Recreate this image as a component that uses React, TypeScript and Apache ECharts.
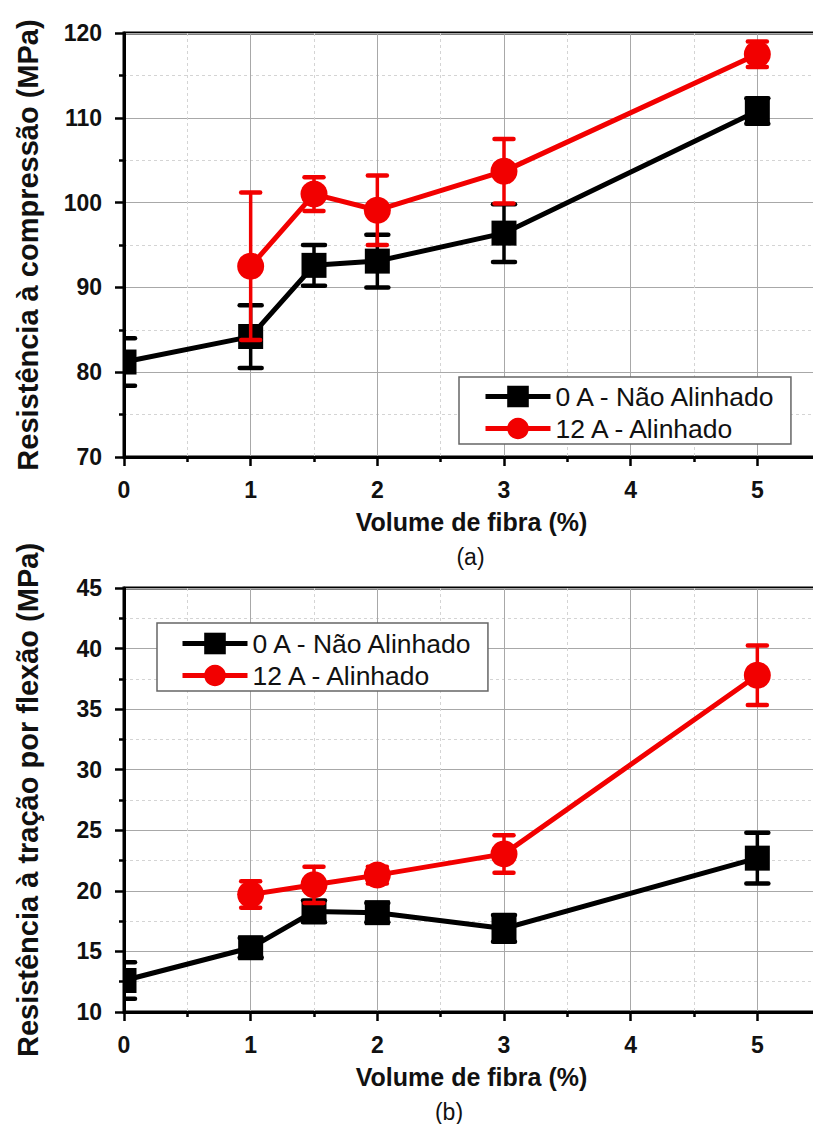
import React, { useEffect, useRef } from "react";
import * as echarts from "echarts";

// ---- data ----
const fibraNaoAlinhado = [0, 1, 1.5, 2, 3, 5];
const fibraAlinhado = [1, 1.5, 2, 3, 5];

const compNaoAlinhado = [81.2, 84.2, 92.6, 93.1, 96.4, 110.8];
const compNaoAlinhadoErr = [2.8, 3.7, 2.4, 3.1, 3.4, 1.5];
const compAlinhado = [92.5, 101.0, 99.1, 103.7, 117.5];
const compAlinhadoErr = [8.7, 2.0, 4.1, 3.8, 1.5];

const flexNaoAlinhado = [12.6, 15.3, 18.3, 18.2, 16.9, 22.7];
const flexNaoAlinhadoErr = [1.5, 0.8, 0.9, 0.8, 1.1, 2.1];
const flexAlinhado = [19.7, 20.5, 21.3, 23.05, 37.8];
const flexAlinhadoErr = [1.1, 1.5, 0.7, 1.55, 2.45];

const nameNao = "0 A - Não Alinhado";
const nameAli = "12 A - Alinhado";
const xTitle = "Volume de fibra (%)";
const yTitleA = "Resistência à compressão (MPa)";
const yTitleB = "Resistência à tração por flexão (MPa)";

const FONT = "'Liberation Sans', Arial, Helvetica, sans-serif";
const BLACK = "#000000";
const RED = "#f20000";

function pts(xs: number[], ys: number[]) {
  return xs.map((x, i) => [x, ys[i]]);
}
function errPts(xs: number[], ys: number[], es: number[]) {
  return xs.map((x, i) => [x, ys[i], es[i]]);
}

export default function App() {
  const ref = useRef<HTMLDivElement>(null);
  useEffect(() => {
    if (!ref.current) return;
    const chart = echarts.init(ref.current, undefined, { renderer: "svg" });

    const xAxisBase = (gridIndex: number) => ({
      type: "value",
      gridIndex,
      min: 0,
      max: 6,
      interval: 1,
      name: xTitle,
      nameLocation: "middle",
      nameGap: 52,
      nameTextStyle: { fontSize: 25, fontWeight: "bold", color: "#111", fontFamily: FONT, padding: [0, 65, 0, 0] },
      axisLine: { show: true, onZero: false, lineStyle: { color: BLACK, width: 3 } },
      axisTick: { show: true, length: 9, lineStyle: { color: BLACK, width: 2.5 } },
      minorTick: { show: true, splitNumber: 2, length: 5, lineStyle: { color: BLACK, width: 2.5 } },
      axisLabel: {
        fontSize: 23,
        fontWeight: "bold",
        color: "#111",
        fontFamily: FONT,
        margin: 21,
        formatter: (v: number) => (v > 5 ? "" : String(v)),
      },
      splitLine: { show: true, lineStyle: { color: "#a8a8a8", width: 1 } },
      minorSplitLine: { show: true, lineStyle: { color: "#d4d4d4", width: 1, type: [3, 3] } },
    });

    const yAxisBase = (gridIndex: number, min: number, max: number, interval: number, name: string) => ({
      type: "value",
      gridIndex,
      min,
      max,
      interval,
      name,
      nameLocation: "middle",
      nameGap: 82,
      nameTextStyle: { fontSize: 29, fontWeight: "bold", color: "#111", fontFamily: FONT },
      axisLine: { show: true, onZero: false, lineStyle: { color: BLACK, width: 3 } },
      axisTick: { show: true, length: 9, lineStyle: { color: BLACK, width: 2.5 } },
      minorTick: { show: true, splitNumber: 2, length: 5, lineStyle: { color: BLACK, width: 2.5 } },
      axisLabel: { fontSize: 23, fontWeight: "bold", color: "#111", fontFamily: FONT, margin: 22 },
      splitLine: { show: true, lineStyle: { color: "#a8a8a8", width: 1 } },
      minorSplitLine: { show: true, lineStyle: { color: "#d4d4d4", width: 1, type: [3, 3] } },
    });

    const lineSeries = (name: string, color: string, symbol: string, size: number, data: number[][], idx: number, z: number) => ({
      type: "line",
      name,
      xAxisIndex: idx,
      yAxisIndex: idx,
      data,
      color,
      symbol,
      symbolSize: size,
      showSymbol: false,
      lineStyle: { color, width: 5 },
      itemStyle: { color },
      z,
      silent: true,
    });

    const markerSeries = (color: string, shape: string, data: number[][], idx: number, z: number) => ({
      type: "custom",
      name: "err-" + color + "-" + idx,
      xAxisIndex: idx,
      yAxisIndex: idx,
      clip: true,
      z,
      silent: true,
      data,
      encode: { x: 0, y: 1 },
      renderItem: (_p: any, api: any) => {
        const x = api.value(0);
        const y = api.value(1);
        const e = api.value(2);
        const c = api.coord([x, y]);
        const t = api.coord([x, y + e]);
        const b = api.coord([x, y - e]);
        const cap = shape === "rect" ? 11 : 9.5;
        const children: any[] = [
          { type: "line", shape: { x1: c[0], y1: t[1], x2: c[0], y2: b[1] }, style: { stroke: color, lineWidth: 3.5 } },
          { type: "line", shape: { x1: c[0] - cap, y1: t[1], x2: c[0] + cap, y2: t[1] }, style: { stroke: color, lineWidth: 4.5, lineCap: "round" } },
          { type: "line", shape: { x1: c[0] - cap, y1: b[1], x2: c[0] + cap, y2: b[1] }, style: { stroke: color, lineWidth: 4.5, lineCap: "round" } },
          shape === "rect"
            ? { type: "rect", shape: { x: c[0] - 12.5, y: c[1] - 12.5, width: 25, height: 25 }, style: { fill: color } }
            : { type: "circle", shape: { cx: c[0], cy: c[1], r: 13.5 }, style: { fill: color } },
        ];
        return { type: "group", children };
      },
    });

    const legendBase = (left: number, top: number, padding: number[]) => ({
      show: true,
      orient: "vertical",
      left,
      top,
      padding,
      itemGap: 5,
      itemWidth: 65,
      itemHeight: 27,
      selectedMode: false,
      backgroundColor: "#ffffff",
      borderColor: "#666666",
      borderWidth: 1.5,
      borderRadius: 0,
      lineStyle: { width: 5 },
      textStyle: { fontSize: 26.5, color: "#111", fontFamily: FONT, padding: [0, 0, 0, 0] },
      data: [nameNao, nameAli],
    });

    const option: any = {
      animation: false,
      backgroundColor: "#ffffff",
      grid: [
        { left: 124, top: 33, width: 760, height: 424, show: true, borderColor: BLACK, borderWidth: 3, backgroundColor: "transparent" },
        { left: 124, top: 588, width: 760, height: 424, show: true, borderColor: BLACK, borderWidth: 3, backgroundColor: "transparent" },
      ],
      xAxis: [xAxisBase(0), xAxisBase(1)],
      yAxis: [yAxisBase(0, 70, 120, 10, yTitleA), yAxisBase(1, 10, 45, 5, yTitleB)],
      legend: [legendBase(459, 377, [6, 13, 2, 24]), legendBase(157, 623, [7, 13, 2, 23])],
      graphic: [
        { type: "text", style: { text: "(a)", x: 470.5, y: 556.7, fontSize: 23, fill: "#111", fontFamily: FONT, textAlign: "center", textVerticalAlign: "middle" } },
        { type: "text", style: { text: "(b)", x: 449, y: 1111.7, fontSize: 23, fill: "#111", fontFamily: FONT, textAlign: "center", textVerticalAlign: "middle" } },
      ],
      series: [
        lineSeries(nameNao, BLACK, "rect", 25, pts(fibraNaoAlinhado, compNaoAlinhado), 0, 2),
        markerSeries(BLACK, "rect", errPts(fibraNaoAlinhado, compNaoAlinhado, compNaoAlinhadoErr), 0, 3),
        lineSeries(nameAli, RED, "circle", 27, pts(fibraAlinhado, compAlinhado), 0, 4),
        markerSeries(RED, "circle", errPts(fibraAlinhado, compAlinhado, compAlinhadoErr), 0, 5),
        lineSeries(nameNao, BLACK, "rect", 25, pts(fibraNaoAlinhado, flexNaoAlinhado), 1, 2),
        markerSeries(BLACK, "rect", errPts(fibraNaoAlinhado, flexNaoAlinhado, flexNaoAlinhadoErr), 1, 3),
        lineSeries(nameAli, RED, "circle", 27, pts(fibraAlinhado, flexAlinhado), 1, 4),
        markerSeries(RED, "circle", errPts(fibraAlinhado, flexAlinhado, flexAlinhadoErr), 1, 5),
      ],
    };

    chart.setOption(option);
    return () => chart.dispose();
  }, []);

  return (
    <div style={{ position: "absolute", left: 0, top: 0, width: 813, height: 1124, overflow: "hidden", background: "#fff" }}>
      <div ref={ref} style={{ width: 900, height: 1124 }} />
    </div>
  );
}
